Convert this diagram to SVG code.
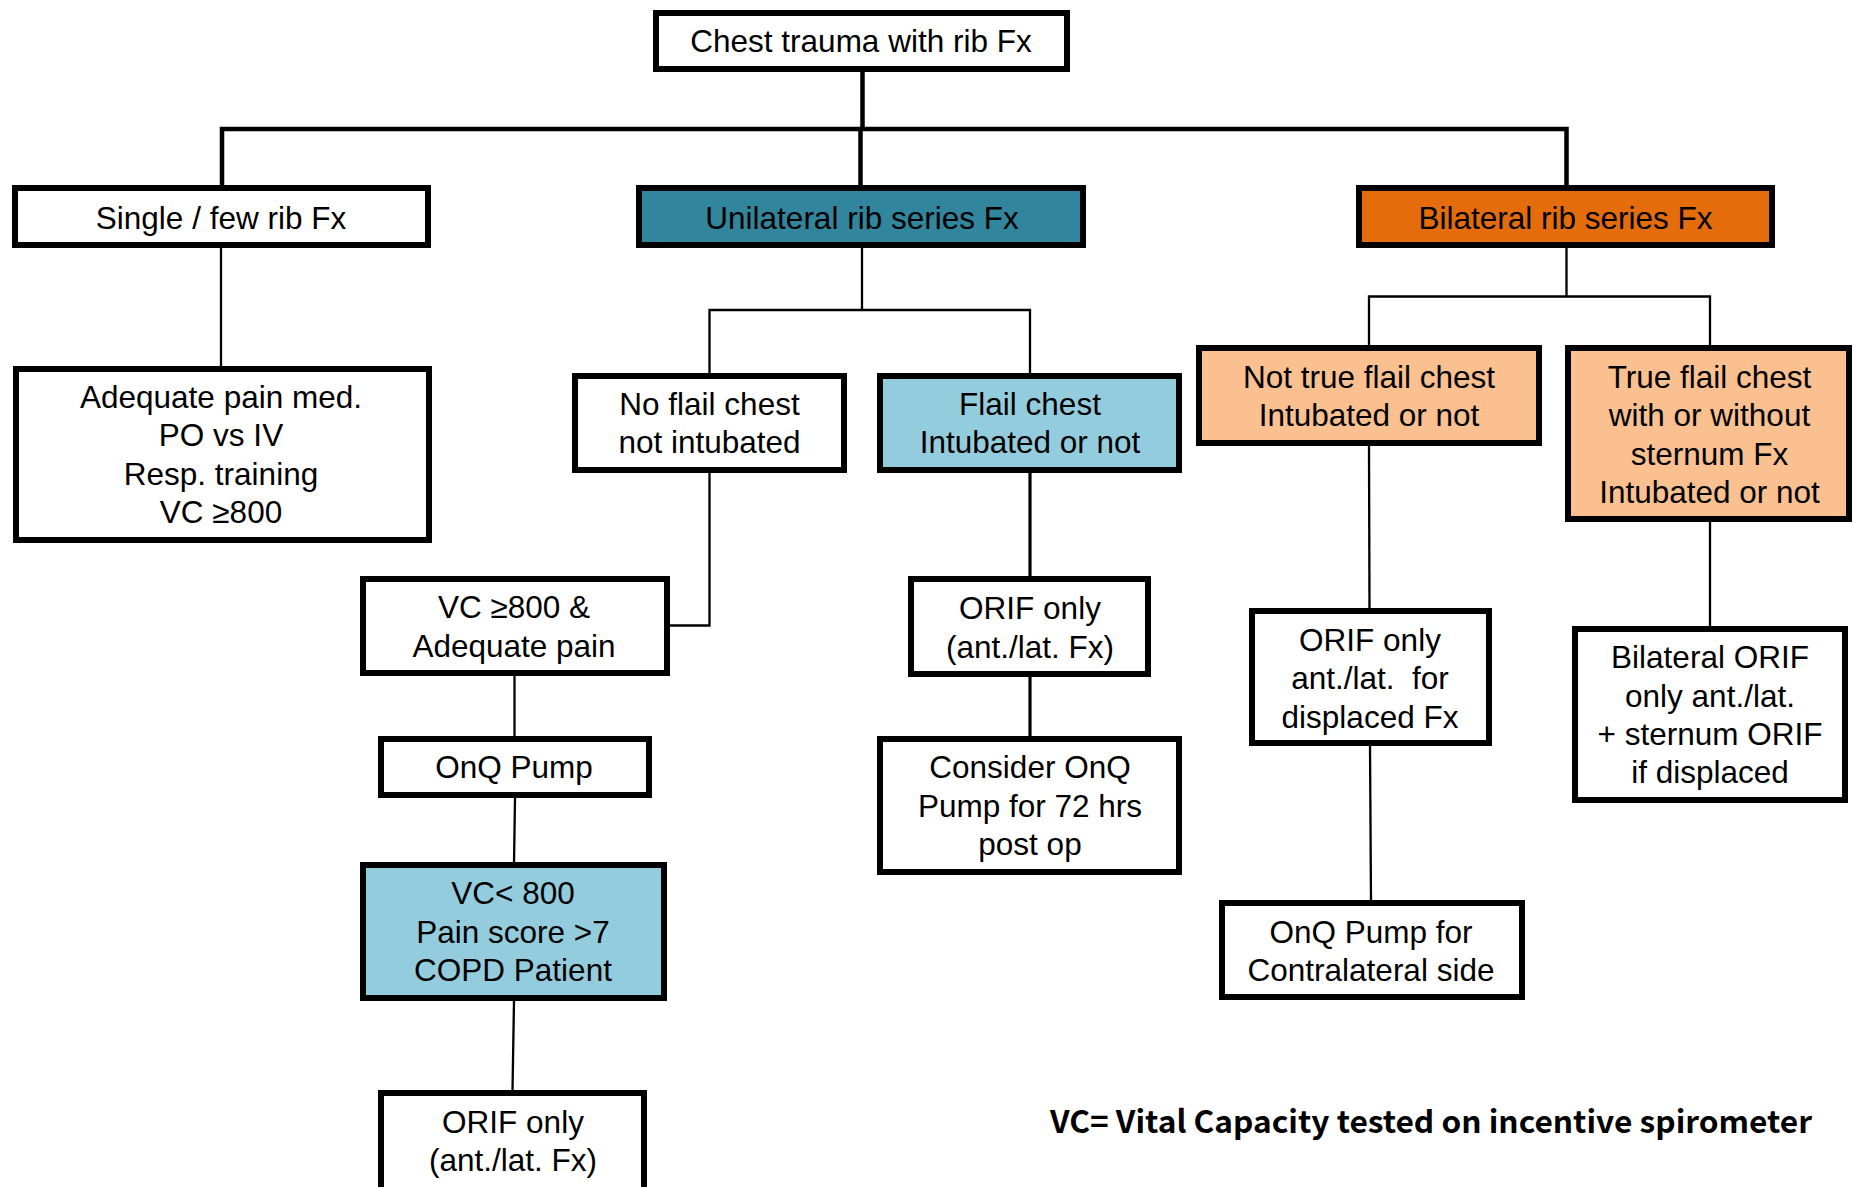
<svg xmlns="http://www.w3.org/2000/svg" width="1854" height="1187" viewBox="0 0 1854 1187">
<style>
.box{fill:#FFFFFF;stroke:#000000;stroke-width:6}
.teal{fill:#31859C}
.lblue{fill:#93CDDD}
.orange{fill:#E46C0A}
.peach{fill:#FAC090}
text{font-family:"Liberation Sans",Arial,sans-serif;font-size:31.5px;fill:#000000;text-anchor:middle;white-space:pre}
.note{font-family:"Noto Sans CJK KR","Noto Sans",sans-serif;font-weight:bold;font-size:31px}
.c4{fill:none;stroke:#000000;stroke-width:4.5}
.c3{fill:none;stroke:#000000;stroke-width:3.2}
.c2{fill:none;stroke:#000000;stroke-width:2.3}
</style>
<rect width="1854" height="1187" fill="#FFFFFF"/>
<g id="connectors">
<path class="c4" d="M862.5 72 V129"/>
<path class="c4" d="M222 187 V129 H1566.5 V187"/>
<path class="c4" d="M860.5 129 V187"/>
<path class="c2" d="M862 248 V310"/>
<path class="c2" d="M709.5 375 V310 H1030 V375"/>
<path class="c2" d="M221 248 V368"/>
<path class="c2" d="M709.5 473 V625.5 H670"/>
<path class="c2" d="M514.5 676 V737"/>
<path class="c2" d="M515 798 L514 863"/>
<path class="c2" d="M514 1001 L512.5 1091"/>
<path class="c3" d="M1030 473 V577"/>
<path class="c3" d="M1030 677 V737"/>
<path class="c2" d="M1566.5 248 V296.5"/>
<path class="c2" d="M1369 347 V296.5 H1710 V347"/>
<path class="c2" d="M1369 446 L1369.5 609"/>
<path class="c2" d="M1370 746 L1371 901"/>
<path class="c2" d="M1710 522 V627"/>
</g>
<g id="n-top">
<rect class="box" x="656" y="13" width="411" height="56"/>
<text x="861" y="52">Chest trauma with rib Fx</text>
</g>
<g id="n-single">
<rect class="box" x="15" y="188" width="413" height="57"/>
<text x="221" y="229">Single / few rib Fx</text>
</g>
<g id="n-unilateral">
<rect class="box teal" x="639" y="188" width="444" height="57"/>
<text x="862" y="229">Unilateral rib series Fx</text>
</g>
<g id="n-bilateral">
<rect class="box orange" x="1359" y="188" width="413" height="57"/>
<text x="1565.5" y="229">Bilateral rib series Fx</text>
</g>
<g id="n-adequate">
<rect class="box" x="16" y="369" width="413" height="171"/>
<text x="221" y="408">Adequate pain med.</text>
<text x="221" y="446">PO vs IV</text>
<text x="221" y="485">Resp. training</text>
<text x="221" y="523">VC ≥800</text>
</g>
<g id="n-noflail">
<rect class="box" x="575" y="376" width="269" height="94"/>
<text x="709.5" y="415">No flail chest</text>
<text x="709.5" y="453">not intubated</text>
</g>
<g id="n-flail">
<rect class="box lblue" x="880" y="376" width="299" height="94"/>
<text x="1030" y="415">Flail chest</text>
<text x="1030" y="453">Intubated or not</text>
</g>
<g id="n-vc800">
<rect class="box" x="363" y="579" width="304" height="94"/>
<text x="514" y="618">VC ≥800 &amp;</text>
<text x="514" y="657">Adequate pain</text>
</g>
<g id="n-onq">
<rect class="box" x="381" y="739" width="268" height="56"/>
<text x="514" y="778">OnQ Pump</text>
</g>
<g id="n-vclt800">
<rect class="box lblue" x="363" y="865" width="301" height="133"/>
<text x="513" y="904">VC&lt; 800</text>
<text x="513" y="943">Pain score &gt;7</text>
<text x="513" y="981">COPD Patient</text>
</g>
<g id="n-orif-left">
<rect class="box" x="381" y="1093" width="263" height="110"/>
<text x="513" y="1133">ORIF only</text>
<text x="513" y="1171">(ant./lat. Fx)</text>
</g>
<g id="n-orif-mid">
<rect class="box" x="911" y="579" width="237" height="95"/>
<text x="1030" y="619">ORIF only</text>
<text x="1030" y="658">(ant./lat. Fx)</text>
</g>
<g id="n-consider">
<rect class="box" x="880" y="739" width="299" height="133"/>
<text x="1030" y="778">Consider OnQ</text>
<text x="1030" y="817">Pump for 72 hrs</text>
<text x="1030" y="855">post op</text>
</g>
<g id="n-nottrue">
<rect class="box peach" x="1199" y="348" width="340" height="95"/>
<text x="1369" y="388">Not true flail chest</text>
<text x="1369" y="426">Intubated or not</text>
</g>
<g id="n-true">
<rect class="box peach" x="1568" y="348" width="281" height="171"/>
<text x="1709.5" y="388">True flail chest</text>
<text x="1709.5" y="426">with or without</text>
<text x="1709.5" y="465">sternum Fx</text>
<text x="1709.5" y="503">Intubated or not</text>
</g>
<g id="n-orif-displaced">
<rect class="box" x="1252" y="611" width="237" height="132"/>
<text x="1370" y="651">ORIF only</text>
<text x="1370" y="689">ant./lat.  for</text>
<text x="1370" y="728">displaced Fx</text>
</g>
<g id="n-contralateral">
<rect class="box" x="1222" y="903" width="300" height="94"/>
<text x="1371" y="943">OnQ Pump for</text>
<text x="1371" y="981">Contralateral side</text>
</g>
<g id="n-bilateral-orif">
<rect class="box" x="1575" y="629" width="270" height="171"/>
<text x="1710" y="668">Bilateral ORIF</text>
<text x="1710" y="707">only ant./lat.</text>
<text x="1710" y="745">+ sternum ORIF</text>
<text x="1710" y="783">if displaced</text>
</g>
<g id="footnote">
<text class="note" x="1431" y="1133" textLength="762" lengthAdjust="spacingAndGlyphs">VC= Vital Capacity tested on incentive spirometer</text>
</g>
</svg>
